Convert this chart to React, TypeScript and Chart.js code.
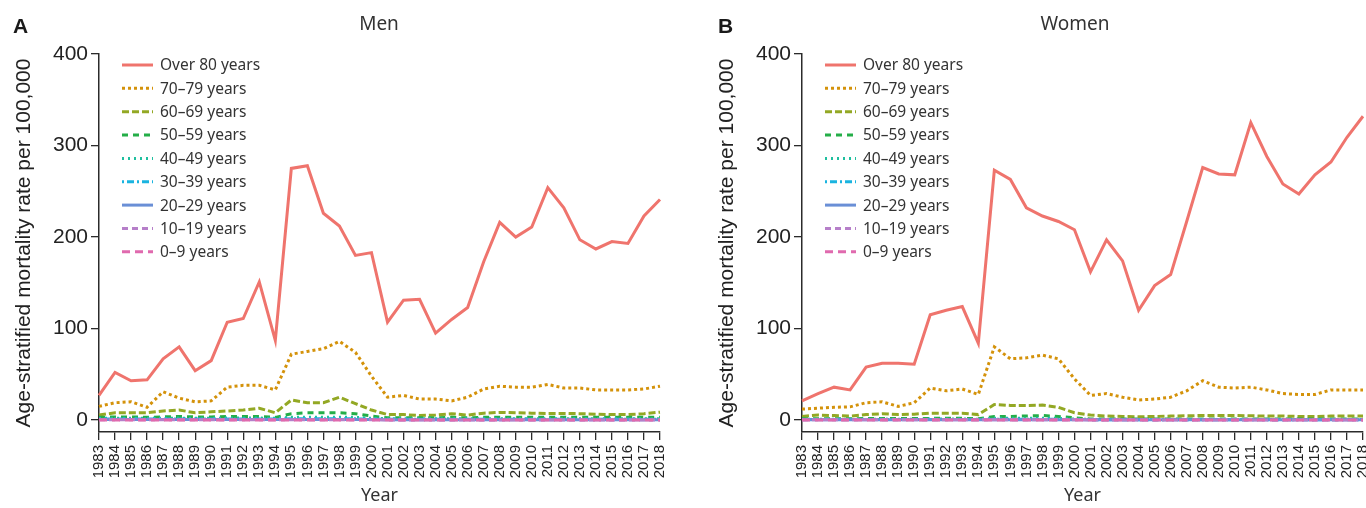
import React, { useEffect, useRef } from 'react';
import { Chart, registerables } from 'chart.js';

Chart.register(...registerables);

// ---------------- DATA ----------------
const years = [
  '1983', '1984', '1985', '1986', '1987', '1988', '1989', '1990', '1991', '1992', '1993', '1994',
  '1995', '1996', '1997', '1998', '1999', '2000', '2001', '2002', '2003', '2004', '2005', '2006',
  '2007', '2008', '2009', '2010', '2011', '2012', '2013', '2014', '2015', '2016', '2017', '2018',
];

const yTicks = [0, 100, 200, 300, 400];

const ageGroups = [
  'Over 80 years', '70–79 years', '60–69 years', '50–59 years', '40–49 years',
  '30–39 years', '20–29 years', '10–19 years', '0–9 years',
];

// Men
const menOver80 = [27, 52, 43, 44, 67, 80, 54, 65, 107, 111, 151, 87, 275, 278, 226, 212, 180, 183, 107, 131, 132, 95, 110, 123, 173, 216, 200, 211, 254, 232, 197, 187, 195, 193, 223, 241];
const men70 = [15, 19, 20, 14, 31, 24, 20, 21, 36, 38, 38, 33, 72, 75, 78, 86, 74, 48, 25, 27, 23, 23, 21, 25, 34, 37, 36, 36, 39, 35, 35, 33, 33, 33, 34, 37];
const men60 = [5.5, 8, 8, 8, 10, 11, 8, 9, 10, 11, 13, 8, 22, 19, 19, 25, 18, 11, 6, 6, 5, 5.5, 7, 5.5, 7.6, 8.4, 8, 7.6, 7.3, 7.3, 7, 6.5, 6, 6, 7, 8.7];
const men50 = [3, 3.5, 3.5, 3, 3.5, 4, 3.5, 3.5, 4, 4, 4, 3, 7, 8, 8, 8, 7, 4.5, 2.5, 2.5, 2.5, 2.5, 3, 2.5, 3, 3, 3, 3, 3, 3, 3, 3, 3, 3, 3, 3];
const men40 = [2, 2, 2, 2, 2, 2.2, 2, 2, 2.2, 2.2, 2.2, 2, 3, 3.2, 3.2, 3.2, 3, 2, 1.5, 1.5, 1.5, 1.5, 1.5, 1.5, 1.5, 1.5, 1.5, 1.5, 1.5, 1.5, 1.5, 1.5, 1.5, 1.5, 1.5, 1.5];
const men30 = [1.2, 1.2, 1.2, 1.1, 1.2, 1.2, 1.1, 1.1, 1.2, 1.2, 1.2, 1.1, 1.5, 1.5, 1.5, 1.5, 1.4, 1.1, 0.9, 0.9, 0.9, 0.9, 0.9, 0.9, 0.9, 0.9, 0.9, 0.9, 0.9, 0.9, 0.9, 0.9, 0.9, 0.9, 0.9, 0.9];
const men20 = [0.6, 0.6, 0.6, 0.6, 0.6, 0.6, 0.6, 0.6, 0.6, 0.6, 0.6, 0.6, 0.7, 0.7, 0.7, 0.7, 0.7, 0.6, 0.5, 0.5, 0.5, 0.5, 0.5, 0.5, 0.5, 0.5, 0.5, 0.5, 0.5, 0.5, 0.5, 0.5, 0.5, 0.5, 0.5, 0.5];
const men10 = [0.3, 0.3, 0.3, 0.3, 0.3, 0.3, 0.3, 0.3, 0.3, 0.3, 0.3, 0.3, 0.3, 0.3, 0.3, 0.3, 0.3, 0.3, 0.2, 0.2, 0.2, 0.2, 0.2, 0.2, 0.2, 0.2, 0.2, 0.2, 0.2, 0.2, 0.2, 0.2, 0.2, 0.2, 0.2, 0.2];
const men0 = [0.2, 0.2, 0.2, 0.2, 0.2, 0.2, 0.2, 0.2, 0.2, 0.2, 0.2, 0.2, 0.2, 0.2, 0.2, 0.2, 0.2, 0.2, 0.1, 0.1, 0.1, 0.1, 0.1, 0.1, 0.1, 0.1, 0.1, 0.1, 0.1, 0.1, 0.1, 0.1, 0.1, 0.1, 0.1, 0.1];

// Women
const womenOver80 = [21, 29, 36, 33, 58, 62, 62, 61, 115, 120, 124, 84, 273, 263, 232, 223, 217, 208, 162, 197, 174, 120, 147, 159, 217, 276, 269, 268, 325, 288, 258, 247, 268, 282, 309, 332];
const women70 = [12, 13, 14, 14.5, 19, 20, 15, 19, 35, 32, 34, 28, 80, 67, 68, 71, 67, 45, 27, 29, 25, 22, 23, 25, 32, 43, 36, 35, 36, 33, 29, 28, 28, 33, 33, 33];
const women60 = [4, 5.5, 5, 4.4, 6, 7, 6, 6.5, 7.6, 7.6, 7.6, 6, 17, 16, 16, 16.4, 14, 8, 5.5, 4.4, 4, 3.6, 4, 4.4, 4.7, 5, 5, 5, 4.7, 4.4, 4.4, 4, 4, 4.4, 4.4, 4.4];
const women50 = [1.5, 1.6, 1.6, 1.5, 1.7, 1.8, 1.6, 1.7, 1.9, 1.9, 1.9, 1.6, 4, 4, 4.5, 5, 4, 2.5, 1.3, 1.2, 1.2, 1.2, 1.2, 1.2, 1.2, 1.2, 1.2, 1.2, 1.2, 1.2, 1.2, 1.2, 1.2, 1.2, 1.2, 1.2];
const women40 = [1, 1, 1, 1, 1, 1.1, 1, 1, 1.1, 1.1, 1.1, 1, 2, 2, 2, 2.1, 1.9, 1.2, 0.7, 0.7, 0.7, 0.7, 0.7, 0.7, 0.7, 0.7, 0.7, 0.7, 0.7, 0.7, 0.7, 0.7, 0.7, 0.7, 0.7, 0.7];
const women30 = [0.6, 0.6, 0.6, 0.6, 0.6, 0.6, 0.6, 0.6, 0.6, 0.6, 0.6, 0.6, 0.8, 0.8, 0.8, 0.8, 0.8, 0.6, 0.5, 0.5, 0.5, 0.5, 0.5, 0.5, 0.5, 0.5, 0.5, 0.5, 0.5, 0.5, 0.5, 0.5, 0.5, 0.5, 0.5, 0.5];
const women20 = [0.4, 0.4, 0.4, 0.4, 0.4, 0.4, 0.4, 0.4, 0.4, 0.4, 0.4, 0.4, 0.5, 0.5, 0.5, 0.5, 0.5, 0.4, 0.3, 0.3, 0.3, 0.3, 0.3, 0.3, 0.3, 0.3, 0.3, 0.3, 0.3, 0.3, 0.3, 0.3, 0.3, 0.3, 0.3, 0.3];
const women10 = [0.3, 0.3, 0.3, 0.3, 0.3, 0.3, 0.3, 0.3, 0.3, 0.3, 0.3, 0.3, 0.3, 0.3, 0.3, 0.3, 0.3, 0.3, 0.2, 0.2, 0.2, 0.2, 0.2, 0.2, 0.2, 0.2, 0.2, 0.2, 0.2, 0.2, 0.2, 0.2, 0.2, 0.2, 0.2, 0.2];
const women0 = [0.2, 0.2, 0.2, 0.2, 0.2, 0.2, 0.2, 0.2, 0.2, 0.2, 0.2, 0.2, 0.2, 0.2, 0.2, 0.2, 0.2, 0.2, 0.1, 0.1, 0.1, 0.1, 0.1, 0.1, 0.1, 0.1, 0.1, 0.1, 0.1, 0.1, 0.1, 0.1, 0.1, 0.1, 0.1, 0.1];

const menSeries = [menOver80, men70, men60, men50, men40, men30, men20, men10, men0];
const womenSeries = [womenOver80, women70, women60, women50, women40, women30, women20, women10, women0];

// ---------------- STYLES ----------------
const seriesStyles = [
  { color: '#EF746D', dash: [] as number[], width: 3 },
  { color: '#D4920A', dash: [3, 3], width: 3 },
  { color: '#93A824', dash: [7, 3], width: 3 },
  { color: '#24AE48', dash: [6, 5], width: 3 },
  { color: '#1FBF9F', dash: [2, 4], width: 3 },
  { color: '#1AB4E0', dash: [2, 3, 7, 3], width: 3 },
  { color: '#6A8FD6', dash: [] as number[], width: 3 },
  { color: '#B67FC9', dash: [6, 4], width: 3 },
  { color: '#E06AAE', dash: [8, 5], width: 3 },
];

const AXIS_COLOR = '#2b2b2b';
const TICK_FONT = '"Liberation Sans", Arial, Helvetica, sans-serif';
const TEXT_FONT = '"Noto Sans", "Liberation Sans", Arial, sans-serif';

const overlayPlugin = {
  id: 'overlay',
  afterDraw(chart: any, _args: any, opts: any) {
    const ctx = chart.ctx;
    const area = chart.chartArea;
    ctx.save();
    // panel letter
    ctx.fillStyle = '#1a1a1a';
    ctx.font = `bold 21px ${TICK_FONT}`;
    ctx.textAlign = 'left';
    ctx.textBaseline = 'middle';
    ctx.fillText(opts.letter, opts.letterX, 27);
    // title
    ctx.fillStyle = '#333';
    ctx.font = `19px ${TEXT_FONT}`;
    ctx.textAlign = 'center';
    ctx.fillText(opts.title, opts.titleX, 25);
    // legend
    chart.data.datasets.forEach((ds: any, i: number) => {
      const y = area.top + 11 + i * 23.35;
      ctx.strokeStyle = ds.borderColor;
      ctx.lineWidth = ds.borderWidth;
      ctx.lineCap = 'butt';
      ctx.setLineDash(ds.borderDash || []);
      ctx.beginPath();
      ctx.moveTo(area.left + 23, y);
      ctx.lineTo(area.left + 54, y);
      ctx.stroke();
      ctx.setLineDash([]);
      ctx.fillStyle = '#333';
      ctx.font = `15.5px ${TEXT_FONT}`;
      ctx.textAlign = 'left';
      ctx.fillText(ds.label, area.left + 61, y + 1);
    });
    ctx.restore();
  },
};

function buildConfig(series: number[][], letter: string, title: string, titleX: number, letterX: number): any {
  return {
    type: 'line',
    data: {
      labels: years,
      datasets: ageGroups.map((g, i) => ({
        label: g,
        data: series[i],
        borderColor: seriesStyles[i].color,
        backgroundColor: seriesStyles[i].color,
        borderDash: seriesStyles[i].dash,
        borderWidth: seriesStyles[i].width,
        pointRadius: 0,
        pointHoverRadius: 0,
        tension: 0,
        fill: false,
        order: ageGroups.length - 1 - i,
      })),
    },
    options: {
      animation: false,
      responsive: false,
      maintainAspectRatio: false,
      events: [],
      layout: { padding: { top: 54, left: 0, right: 0, bottom: 0 } },
      plugins: {
        legend: { display: false },
        tooltip: { enabled: false },
        title: { display: false },
        overlay: { letter, title, titleX, letterX },
      },
      scales: {
        x: {
          type: 'category',
          offset: false,
          grid: { display: true, drawOnChartArea: false, drawTicks: true, tickLength: 8, color: AXIS_COLOR, lineWidth: 1.3 },
          border: { display: true, color: AXIS_COLOR, width: 1.5 },
          ticks: {
            autoSkip: false,
            minRotation: 90,
            maxRotation: 90,
            padding: 5,
            color: '#222',
            font: { family: TICK_FONT, size: 15 },
          },
          title: {
            display: true,
            text: 'Year',
            color: '#333',
            font: { family: TEXT_FONT, size: 18 },
            padding: { top: 0, bottom: 1 },
          },
          afterFit: (scale: any) => { scale.height = 76; },
        },
        y: {
          min: -13,
          max: 400,
          grid: { display: true, drawOnChartArea: false, drawTicks: true, tickLength: 8, color: AXIS_COLOR, lineWidth: 1.3 },
          border: { display: true, color: AXIS_COLOR, width: 1.5 },
          afterBuildTicks: (scale: any) => { scale.ticks = yTicks.map((v) => ({ value: v })); },
          ticks: {
            padding: 3,
            color: '#222',
            font: { family: TICK_FONT, size: 21 },
          },
          title: {
            display: true,
            text: 'Age-stratified mortality rate per 100,000',
            color: '#222',
            font: { family: TICK_FONT, size: 21 },
            padding: { top: 12, bottom: 0 },
          },
          afterFit: (scale: any) => { scale.width = 99; },
        },
      },
    },
    plugins: [overlayPlugin],
  };
}

function Panel(props: { series: number[][]; letter: string; title: string; titleX: number; letterX: number; left: number }) {
  const ref = useRef<HTMLCanvasElement | null>(null);
  useEffect(() => {
    if (!ref.current) return;
    const chart = new Chart(ref.current, buildConfig(props.series, props.letter, props.title, props.titleX, props.letterX));
    return () => chart.destroy();
  }, []);
  return (
    <canvas
      ref={ref}
      width={683}
      height={508}
      style={{ position: 'absolute', left: props.left, top: 0, width: 683, height: 508 }}
    />
  );
}

export default function App() {
  return (
    <div style={{ position: 'absolute', left: 0, top: 0, width: 1366, height: 508, overflow: 'hidden', background: '#fff' }}>
      <Panel series={menSeries} letter="A" title="Men" titleX={379} letterX={13} left={0} />
      <Panel series={womenSeries} letter="B" title="Women" titleX={372} letterX={15} left={703} />
    </div>
  );
}
